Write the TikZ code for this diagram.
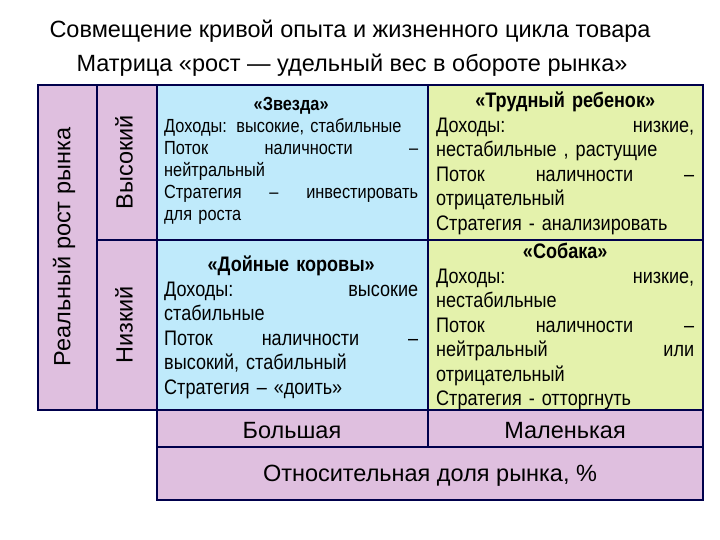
\documentclass[tikz,border=0pt]{standalone}
\usepackage{fontspec}
\setmainfont{Liberation Sans}
\newfontfamily\narrowf[FakeStretch=0.86]{Liberation Sans}
\begin{document}
\begin{tikzpicture}[x=1pt,y=-1pt,
  cellfill/.style={draw=black!70!blue, line width=1.2pt},
  purp/.style={cellfill, fill=violet!25!white},
  blu/.style={cellfill, fill=cyan!25!white},
  grn/.style={cellfill, fill=lime!25!white!90!olive},
  body/.style={text width=258pt, align=left, font=\narrowf\fontsize{21}{24.5}\selectfont, inner sep=0pt},
  lab/.style={font=\fontsize{23.5}{26}\selectfont}]
\useasboundingbox (0,0) rectangle (720,540);
\node[font=\fontsize{23.5}{28}\selectfont] (t1) at (350,31) {Совмещение кривой опыта и жизненного цикла товара};
\node[font=\fontsize{23.5}{28}\selectfont] (t2) at (352,65) {Матрица «рост — удельный вес в обороте рынка»};
\draw[purp] (38,85) rectangle (97,410);
\draw[purp] (97,85) rectangle (157,240);
\draw[purp] (97,240) rectangle (157,410);
\draw[blu] (157,85) rectangle (428,240);
\draw[grn] (428,85) rectangle (703,240);
\draw[blu] (157,240) rectangle (428,410);
\draw[grn] (428,240) rectangle (703,410);
\draw[purp] (157,410) rectangle (428,447);
\draw[purp] (428,410) rectangle (703,447);
\draw[purp] (157,447) rectangle (703,500);
\node[lab, rotate=90] (rr) at (64,247) {Реальный рост рынка};
\node[lab, rotate=90] (hi) at (124,162) {Высокий};
\node[lab, rotate=90] (lo) at (124,325) {Низкий};
\node[body, anchor=north west, text width=254pt, font=\narrowf\fontsize{19}{22}\selectfont] (c1) at (164,97) {{\centering\bfseries «Звезда»\par}
Доходы: высокие, стабильные\par Поток\hfill наличности\hfill –\par нейтральный\par Стратегия\hfill –\hfill инвестировать\par для роста};
\node[body, anchor=north west] (c2) at (436,92) {{\centering\bfseries «Трудный ребенок»\par}
Доходы:\hfill низкие,\par нестабильные , растущие\par Поток\hfill наличности\hfill –\par отрицательный\par Стратегия - анализировать};
\node[body, anchor=north west, text width=254pt] (c3) at (164,256) {{\centering\bfseries «Дойные коровы»\par}
Доходы:\hfill высокие\par стабильные\par Поток\hfill наличности\hfill –\par высокий, стабильный\par Стратегия – «доить»};
\node[body, anchor=north west] (c4) at (436,243) {{\centering\bfseries «Собака»\par}
Доходы:\hfill низкие,\par нестабильные\par Поток\hfill наличности\hfill –\par нейтральный\hfill или\par отрицательный\par Стратегия - отторгнуть};
\node[lab] (b1) at (292,431) {Большая};
\node[lab] (b2) at (565,431) {Маленькая};
\node[lab] (b3) at (430,476) {Относительная доля рынка, \%};
\end{tikzpicture}
\end{document}
